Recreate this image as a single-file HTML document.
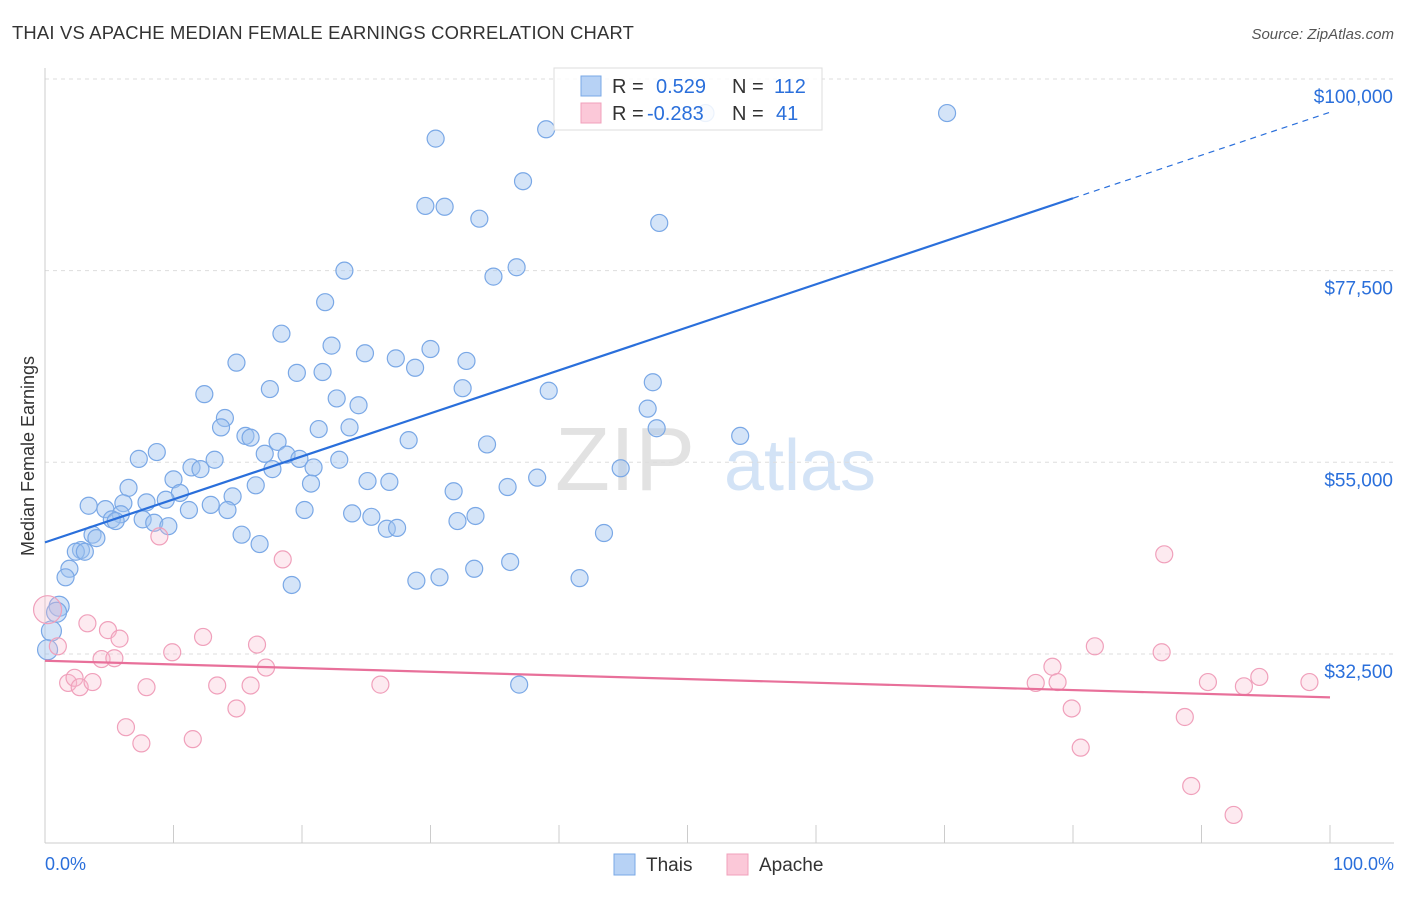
<!DOCTYPE html>
<html><head><meta charset="utf-8"><style>
body{margin:0;background:#fff;font-family:"Liberation Sans",sans-serif;}
svg text{font-family:"Liberation Sans",sans-serif;}
</style></head><body>
<svg id="c" width="1406" height="892" viewBox="0 0 1406 892" xmlns="http://www.w3.org/2000/svg">
<text x="12" y="39" font-size="18.4" letter-spacing="0.2" fill="#333">THAI VS APACHE MEDIAN FEMALE EARNINGS CORRELATION CHART</text>
<text x="1394" y="39" font-size="15" fill="#555" text-anchor="end" font-style="italic">Source: ZipAtlas.com</text>
<text x="34" y="456" font-size="18" fill="#333" text-anchor="middle" transform="rotate(-90 34 456)">Median Female Earnings</text>
<g><text x="625" y="490" font-size="90" fill="#e2e2e2" text-anchor="middle" font-family="Liberation Serif">ZIP</text><text x="800" y="490" font-size="72" fill="#d3e3f6" text-anchor="middle">atlas</text></g>
<g id="grid"></g>
<g id="axes"></g>
<g id="pts"></g>
<g id="lines"></g>
<g>
<rect x="554" y="68" width="268" height="62" fill="rgba(255,255,255,0.85)" stroke="#ddd"/>
<rect x="581" y="76" width="20" height="20" fill="#b7d2f5" stroke="#7aa8e6"/>
<rect x="581" y="103" width="20" height="20" fill="#fbc8d8" stroke="#f0a0bb"/>
<text x="612" y="93" font-size="20" fill="#333">R =</text><text x="656" y="93" font-size="20" fill="#2a6fdb">0.529</text>
<text x="732" y="93" font-size="20" fill="#333">N =</text><text x="774" y="93" font-size="20" fill="#2a6fdb">112</text>
<text x="612" y="120" font-size="20" fill="#333">R =</text><text x="647" y="120" font-size="20" fill="#2a6fdb">-0.283</text>
<text x="732" y="120" font-size="20" fill="#333">N =</text><text x="776" y="120" font-size="20" fill="#2a6fdb">41</text>
</g>
<g>
<rect x="614" y="854" width="21" height="21" fill="#b7d2f5" stroke="#7aa8e6"/>
<text x="646" y="871" font-size="19" fill="#333">Thais</text>
<rect x="727" y="854" width="21" height="21" fill="#fbc8d8" stroke="#f0a0bb"/>
<text x="759" y="871" font-size="19" fill="#333">Apache</text>
</g>
<text x="45" y="870" font-size="18" fill="#2a6fdb">0.0%</text>
<text x="1394" y="870" font-size="18" fill="#2a6fdb" text-anchor="end">100.0%</text>
</svg>
<script>
const yTicks=[100000,77500,55000,32500];
const yTickLabels=["$100,000","$77,500","$55,000","$32,500"];
const thaiX=[30.4,39.0,70.2,51.4,37.2,29.6,31.1,33.8,47.8,23.3,36.7,34.9,21.8,18.4,22.3,24.9,30.0,27.3,32.8,14.9,28.8,19.6,21.6,17.5,32.5,47.3,12.4,39.2,22.7,24.4,46.9,14.0,13.7,23.7,21.3,47.6,54.1,15.6,16.0,28.3,34.4,18.1,8.7,17.1,18.8,7.3,19.8,22.9,13.2,11.4,12.1,20.9,17.7,44.8,10.0,38.3,25.1,26.8,16.4,20.7,36.0,6.5,10.5,31.8,14.6,9.4,7.9,6.1,3.4,12.9,4.7,5.9,11.2,14.2,20.2,23.9,33.5,5.2,7.6,25.4,32.1,8.5,5.5,9.6,26.6,27.4,15.3,43.5,3.7,4.0,16.7,2.8,2.4,3.1,36.2,1.9,33.4,1.6,30.7,28.9,41.6,19.2,1.1,0.9,0.5,0.2,36.9];
const thaiY=[93.0,94.1,96.0,96.0,88.0,85.1,85.0,83.6,83.1,77.5,77.9,76.8,73.8,70.1,68.7,67.8,68.3,67.2,66.9,66.7,66.1,65.5,65.6,63.6,63.7,64.4,63.0,63.4,62.5,61.7,61.3,60.2,59.1,59.1,58.9,59.0,58.1,58.1,57.9,57.6,57.1,57.4,56.2,56.0,55.9,55.4,55.4,55.3,55.3,54.4,54.2,54.4,54.2,54.3,53.0,53.2,52.8,52.7,52.3,52.5,52.1,52.0,51.4,51.6,51.0,50.6,50.3,50.2,49.9,50.0,49.5,48.9,49.4,49.4,49.4,49.0,48.7,48.3,48.3,48.6,48.1,47.9,48.1,47.5,47.2,47.3,46.5,46.7,46.5,46.1,45.4,44.7,44.5,44.5,43.3,42.5,42.5,41.5,41.5,41.1,41.4,40.6,38.1,37.4,35.2,33.0,28.9];
const apacheX=[0.2,1.0,3.3,4.9,5.8,4.4,5.4,9.9,12.3,16.5,17.2,18.5,8.9,1.8,2.3,2.7,3.7,7.9,13.4,16.0,26.1,14.9,6.3,7.5,11.5,87.1,81.7,86.9,78.4,77.1,78.8,90.5,94.5,93.3,98.4,79.9,88.7,80.6,89.2,92.5];
const apacheY=[37.7,33.4,36.1,35.3,34.3,31.9,32.0,32.7,34.5,33.6,30.9,43.6,46.3,29.1,29.7,28.6,29.2,28.6,28.8,28.8,28.9,26.1,23.9,22.0,22.5,44.2,33.4,32.7,31.0,29.1,29.2,29.2,29.8,28.7,29.2,26.1,25.1,21.5,17.0,13.6];
const thaiTrend=[45.6,86.0,96.1]; // y (k$) at x = 0, 80, 100
const apacheTrend=[31.7,27.4]; // y at x=0,100
const NS="http://www.w3.org/2000/svg";
const sx=v=>45+v*12.85;
const sy=v=>79+(100-v)/0.1174;
function mk(tag,attrs,parent){const e=document.createElementNS(NS,tag);for(const k in attrs)e.setAttribute(k,attrs[k]);parent.appendChild(e);return e;}
const grid=document.getElementById('grid'),axes=document.getElementById('axes'),pts=document.getElementById('pts'),lines=document.getElementById('lines');
yTicks.forEach((t,i)=>{const y=sy(t/1000);
const l=mk('line',{x1:45,x2:1394,y1:y,y2:y,stroke:'#ddd','stroke-dasharray':'4 4'},grid);


const tx=mk('text',{x:1393,y:y+24,'font-size':19,fill:'#2a6fdb','text-anchor':'end'},grid);tx.textContent=yTickLabels[i];

});
mk('line',{x1:45,x2:45,y1:68,y2:843,stroke:'#ccc'},axes);
mk('line',{x1:45,x2:1394,y1:843,y2:843,stroke:'#ccc'},axes);
for(let i=1;i<=10;i++){const t=mk('line',{x1:sx(i*10),x2:sx(i*10),y1:825,y2:843,stroke:'#ccc'},axes);

}
thaiX.forEach((x,i)=>{const c=mk('circle',{cx:sx(x),cy:sy(thaiY[i]),r:x<1.2?10:8.5,fill:'rgba(160,196,240,0.45)',stroke:'#7aa8e6','stroke-width':1.2},pts);

});
apacheX.forEach((x,i)=>{const c=mk('circle',{cx:sx(x),cy:sy(apacheY[i]),r:x<0.5?14:8.5,fill:'rgba(248,185,205,0.3)',stroke:'#f0a0bb','stroke-width':1.2},pts);

});
let a=mk('line',{x1:sx(0),y1:sy(thaiTrend[0]),x2:sx(80),y2:sy(thaiTrend[1]),stroke:'#2a6fdb','stroke-width':2.2},lines);


a=mk('line',{x1:sx(80),y1:sy(thaiTrend[1]),x2:sx(100),y2:sy(thaiTrend[2]),stroke:'#2a6fdb','stroke-width':1.2,'stroke-dasharray':'6 5'},lines);


a=mk('line',{x1:sx(0),y1:sy(apacheTrend[0]),x2:sx(100),y2:sy(apacheTrend[1]),stroke:'#e8709a','stroke-width':2.2},lines);


</script>
</body></html>
